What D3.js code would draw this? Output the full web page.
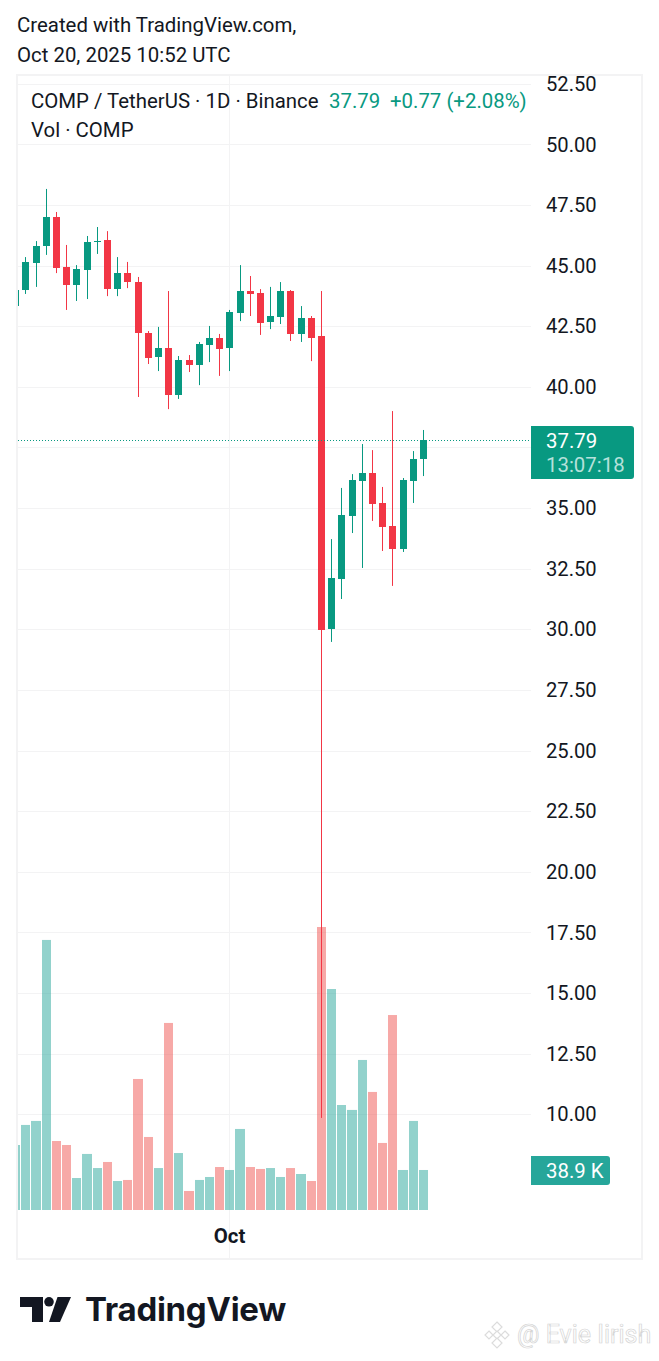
<!DOCTYPE html>
<html>
<head>
<meta charset="utf-8">
<script src="https://cdn.jsdelivr.net/npm/d3@7"></script>
<style>
  html, body { margin: 0; padding: 0; background: #fff; }
  svg { display: block; }
  text { font-family: Roboto, sans-serif; font-size: 20.4px; fill: #131722; }
</style>
</head>
<body>
<svg id="chart" width="659" height="1361"></svg>
<script>
// daily candles, Sep 10 to Oct 20 2025
const opens = [43.33, 43.99, 45.11, 45.81, 47.00, 44.94, 44.20, 44.82, 45.97, 46.05, 44.03, 44.69, 44.32, 42.22, 41.23, 41.60, 39.66, 41.11, 40.90, 41.72, 42.01, 41.60, 43.04, 43.95, 43.87, 42.67, 42.88, 43.95, 42.18, 42.84, 42.09, 30.01, 32.07, 34.67, 36.12, 36.45, 35.21, 34.26, 33.31, 36.12, 37.02];
const highs = [43.99, 45.35, 46.01, 48.16, 47.21, 45.85, 45.02, 46.22, 46.59, 46.42, 45.35, 45.15, 44.53, 42.30, 42.47, 43.95, 41.27, 41.31, 41.85, 42.51, 42.18, 43.17, 45.02, 44.57, 44.03, 44.12, 44.32, 43.99, 43.33, 42.92, 43.95, 33.72, 35.83, 36.40, 37.64, 37.39, 35.87, 39.00, 36.24, 37.35, 38.22];
const lows = [43.33, 43.83, 44.12, 45.44, 44.69, 43.17, 43.54, 43.62, 45.48, 43.74, 43.74, 44.07, 39.58, 40.94, 40.65, 39.08, 39.50, 40.61, 40.07, 41.02, 40.45, 40.65, 42.71, 42.92, 42.14, 42.38, 42.59, 41.89, 41.85, 41.06, 9.85, 29.48, 31.25, 33.97, 32.53, 34.47, 33.23, 31.79, 33.19, 35.21, 36.32];
const closes = [43.99, 45.15, 45.81, 47.00, 44.90, 44.20, 44.86, 45.97, 46.01, 44.03, 44.69, 44.32, 42.22, 41.19, 41.60, 39.66, 41.11, 40.90, 41.76, 42.01, 41.56, 43.08, 43.95, 43.83, 42.63, 42.92, 43.95, 42.18, 42.84, 42.01, 29.97, 32.12, 34.71, 36.16, 36.45, 35.17, 34.22, 33.31, 36.16, 37.02, 37.79];
// volume in thousands of COMP
const volumes = [63.2, 82.7, 86.6, 262.6, 67.1, 63.2, 31.1, 54.5, 40.8, 46.7, 28.2, 29.2, 127.4, 71.0, 40.8, 181.9, 55.4, 18.5, 29.2, 32.1, 41.8, 38.9, 78.8, 41.8, 39.9, 40.8, 32.1, 40.8, 35.0, 28.2, 275.2, 214.9, 102.1, 97.3, 145.9, 114.8, 65.2, 189.6, 38.9, 86.6, 38.9];
const priceTicks = [52.5, 50, 47.5, 45, 42.5, 40, 37.5, 35, 32.5, 30, 27.5, 25, 22.5, 20, 17.5, 15, 12.5, 10];
const hiddenTick = 37.5; // sits under the last price label
const lastPrice = 37.79;

const UP = '#089981', DOWN = '#f23645';
const UP_VOL = '#26a69a', DOWN_VOL = '#ef5350';
const GRID = '#f3f3f4';
const INK = '#131722';

const dates = d3.utcDay.range(new Date(Date.UTC(2025, 8, 10)), new Date(Date.UTC(2025, 9, 21)));
const candles = dates.map((d, i) => ({ date: d, o: opens[i], h: highs[i], l: lows[i], c: closes[i], v: volumes[i], up: closes[i] >= opens[i] }));

const x = d3.scaleUtc().domain([dates[0], dates[dates.length - 1]]).range([15.72, 423.52]);
const y = d3.scaleLinear().domain([30, 52.5]).range([629.3, 83.7]);
const yVol = d3.scaleLinear().domain([0, 275.2]).range([1210, 927]);
const px = d => Math.floor(x(d));
// each volume bar runs from just after the previous bar up to 4px right of its wick
const volLeft = d => px(d3.utcDay.offset(d, -1)) + 6;
const volRight = d => px(d) + 5;

const svg = d3.select('#chart');
svg.append('rect').attr('width', 659).attr('height', 1361).attr('fill', '#fff');

svg.append('defs').append('clipPath').attr('id', 'plot')
  .append('rect').attr('x', 18).attr('y', 76).attr('width', 513).attr('height', 1182);

// header
svg.append('text').attr('x', 17).attr('y', 32).text('Created with TradingView.com,');
svg.append('text').attr('x', 17).attr('y', 62).text('Oct 20, 2025 10:52 UTC');

// frame
svg.append('rect').attr('x', 17).attr('y', 75).attr('width', 625).attr('height', 1184)
  .attr('fill', 'none').attr('stroke', GRID).attr('stroke-width', 2);

// grid
const grid = svg.append('g');
grid.selectAll('line.h').data(priceTicks).join('line').attr('class', 'h')
  .attr('x1', 18).attr('x2', 531)
  .attr('y1', d => Math.round(y(d)) + 0.5).attr('y2', d => Math.round(y(d)) + 0.5)
  .attr('stroke', GRID);
const octTick = new Date(Date.UTC(2025, 9, 1));
grid.append('line')
  .attr('x1', px(octTick) + 0.5).attr('x2', px(octTick) + 0.5)
  .attr('y1', 76).attr('y2', 1258)
  .attr('stroke', GRID);

const plot = svg.append('g').attr('clip-path', 'url(#plot)');

// volume
plot.append('g').selectAll('rect').data(candles).join('rect')
  .attr('x', d => volLeft(d.date))
  .attr('width', d => volRight(d.date) - volLeft(d.date))
  .attr('y', d => yVol(d.v))
  .attr('height', d => 1210 - yVol(d.v))
  .attr('fill', d => d.up ? UP_VOL : DOWN_VOL)
  .attr('fill-opacity', 0.5);

// wicks
plot.append('g').selectAll('rect').data(candles).join('rect')
  .attr('x', d => px(d.date))
  .attr('width', 1)
  .attr('y', d => y(d.h))
  .attr('height', d => y(d.l) - y(d.h))
  .attr('fill', d => d.up ? UP : DOWN);

// bodies
plot.append('g').selectAll('rect').data(candles).join('rect')
  .attr('x', d => px(d.date) - 3)
  .attr('width', 7)
  .attr('y', d => Math.round(y(Math.max(d.o, d.c))))
  .attr('height', d => Math.max(1, Math.round(y(Math.min(d.o, d.c))) - Math.round(y(Math.max(d.o, d.c)))))
  .attr('fill', d => d.up ? UP : DOWN);

// last price line
svg.append('line')
  .attr('x1', 18).attr('x2', 529)
  .attr('y1', 440.5).attr('y2', 440.5)
  .attr('stroke', UP).attr('stroke-dasharray', '1 2');

// price axis
const axis = d3.axisRight(y).tickValues(priceTicks.filter(d => d !== hiddenTick))
  .tickFormat(d3.format('.2f')).tickSize(0).tickPadding(0);
const axisG = svg.append('g').attr('transform', 'translate(546,-0.4)').call(axis);
axisG.select('.domain').remove();
axisG.selectAll('text').attr('dy', '0.35em')
  .style('font-size', '20.2px').style('font-family', 'Roboto, sans-serif').style('fill', INK);

// last price label
svg.append('path')
  .attr('d', 'M531,426H631a3,3 0 0 1 3,3V476a3,3 0 0 1 -3,3H531Z')
  .attr('fill', UP);
svg.append('text').attr('x', 546).attr('y', 448).style('fill', '#fff').text(lastPrice.toFixed(2));
svg.append('text').attr('x', 546).attr('y', 472).style('fill', '#b5e1db').text('13:07:18');

// volume label
svg.append('path')
  .attr('d', 'M531,1156H607a3,3 0 0 1 3,3V1182a3,3 0 0 1 -3,3H531Z')
  .attr('fill', UP_VOL);
svg.append('text').attr('x', 546).attr('y', 1178).style('fill', '#fff').text(volumes[volumes.length - 1].toFixed(1) + ' K');

// legend
svg.append('text').attr('x', 31).attr('y', 108).text('COMP / TetherUS · 1D · Binance');
svg.append('text').attr('x', 329).attr('y', 108).style('fill', UP).text('37.79');
svg.append('text').attr('x', 390).attr('y', 108).style('fill', UP).text('+0.77 (+2.08%)');
svg.append('text').attr('x', 31).attr('y', 137).text('Vol · COMP');

// time axis
svg.append('text').attr('x', px(octTick) + 0.5).attr('y', 1243)
  .attr('text-anchor', 'middle').style('font-weight', 700).text(d3.utcFormat('%b')(octTick));

// TradingView logo
const logo = svg.append('g').attr('transform', 'translate(20,1297)').attr('fill', INK);
logo.append('path').attr('d', 'M0,0H23V25H12V10H0Z');
logo.append('circle').attr('cx', 29).attr('cy', 4.8).attr('r', 4.8);
logo.append('path').attr('d', 'M37.5,0H51L40,25H29Z');
svg.append('text').attr('x', 85).attr('y', 1321)
  .style('font-family', 'Inter, sans-serif').style('font-size', '33px').style('font-weight', 700)
  .style('letter-spacing', '-0.3px').text('TradingView');

// watermark
const mark = svg.append('g').attr('transform', 'translate(497,1335)')
  .attr('fill', '#fff').attr('stroke', '#dcdcdc').attr('stroke-width', 1.2);
const diamond = r => `M0,${-r}L${r},0L0,${r}L${-r},0Z`;
mark.selectAll('path').data([[0, -8, 5], [-8, 0, 4], [8, 0, 4], [0, 0, 4], [0, 8, 5]]).join('path')
  .attr('transform', d => `translate(${d[0]},${d[1]})`)
  .attr('d', d => diamond(d[2]));
svg.append('text').attr('x', 517).attr('y', 1343)
  .style('fill', '#fff').style('stroke', '#d4d4d4').style('stroke-width', 0.7)
  .style('font-size', '25px').text('@ Evie Iirish');
</script>
</body>
</html>
